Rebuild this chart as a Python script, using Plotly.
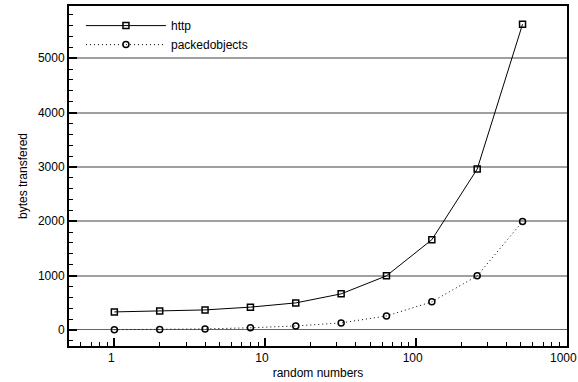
import plotly.graph_objects as go
import numpy as np

x_vals = [1, 2, 4, 8, 16, 32, 64, 128, 256, 512]
http_vals = [332, 350, 369, 420, 498, 664, 996, 1660, 2960, 5625]
packed_vals = [5, 10, 20, 40, 74, 129, 258, 517, 996, 1995]
x_tick_vals = [1, 10, 100, 1000]
x_tick_text = ["1", "10", "100", "1000"]
x_minor_vals = [0.6, 0.7, 0.8, 0.9, 2, 3, 4, 5, 6, 7, 8, 9,
                20, 30, 40, 50, 60, 70, 80, 90,
                200, 300, 400, 500, 600, 700, 800, 900]
y_tick_vals = [0, 1000, 2000, 3000, 4000, 5000]

fig = go.Figure()
fig.add_trace(go.Scatter(
    x=x_vals, y=http_vals, name="http", mode="lines+markers",
    line=dict(color="black", width=1),
    marker=dict(symbol="square-open", size=6, color="black", line=dict(width=1.5)),
))
fig.add_trace(go.Scatter(
    x=x_vals, y=packed_vals, name="packedobjects", mode="lines+markers",
    line=dict(color="black", width=1, dash="1px,3px"),
    marker=dict(symbol="circle-open", size=6, color="black", line=dict(width=1.5)),
))

fig.update_layout(
    width=578, height=382,
    margin=dict(l=69, r=11, t=6, b=36, autoexpand=False),
    paper_bgcolor="white", plot_bgcolor="white",
    font=dict(family="Liberation Sans, Arial, sans-serif", size=12, color="black"),
    showlegend=True,
    legend=dict(x=0.024, y=0.985, xanchor="left", yanchor="top",
                bgcolor="rgba(0,0,0,0)", font=dict(size=12), itemwidth=80,
                tracegroupgap=0),
    xaxis=dict(
        type="log", range=[np.log10(0.5), np.log10(1010)],
        tickvals=x_tick_vals, ticktext=x_tick_text,
        ticks="inside", ticklen=8, tickwidth=2, tickcolor="black",
        ticklabeloverflow="allow", ticklabelshift=-3,
        showgrid=False, zeroline=False, automargin=False,
        showline=True, linecolor="black", linewidth=2, mirror=True,
        minor=dict(tickmode="array", tickvals=x_minor_vals, ticks="inside",
                   ticklen=4, tickwidth=1, tickcolor="black", showgrid=False),
        title=dict(text="random numbers", standoff=4, font=dict(size=12)),
    ),
    yaxis=dict(
        range=[-295, 5960], automargin=False,
        tickvals=y_tick_vals,
        ticks="inside", ticklen=8, tickwidth=2, tickcolor="black",
        showgrid=True, gridcolor="#a0a0a0", gridwidth=1.5,
        zeroline=True, zerolinecolor="#5a6480", zerolinewidth=1,
        showline=True, linecolor="black", linewidth=2, mirror=True,
        minor=dict(dtick=200, ticks="inside", ticklen=4, tickwidth=1, tickcolor="black", showgrid=False),
        title=dict(text="bytes transfered", standoff=8, font=dict(size=12)),
    ),
)

fig.write_html("out.html", config={"displayModeBar": False},
               post_script="document.body.style.margin='0';document.body.style.overflow='hidden';")
